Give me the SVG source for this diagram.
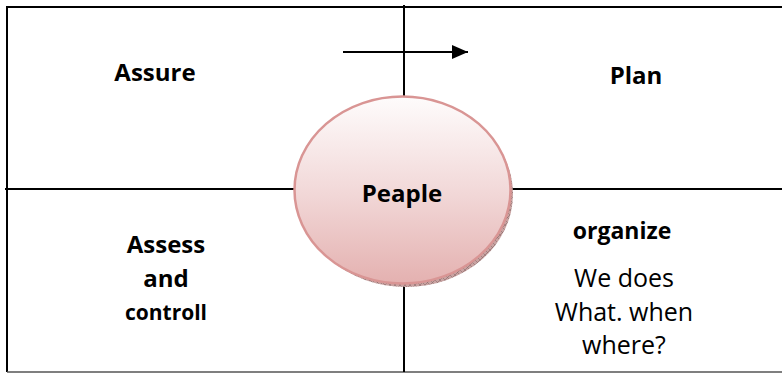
<svg xmlns="http://www.w3.org/2000/svg" width="782" height="374" viewBox="0 0 782 374">
<defs>
<linearGradient id="g" x1="0" y1="0" x2="0" y2="1">
<stop offset="0" stop-color="#fefcfc"/>
<stop offset="0.5" stop-color="#f2d9d9"/>
<stop offset="1" stop-color="#e4b1b0"/>
</linearGradient>
<pattern id="hatch" width="5" height="5" patternUnits="userSpaceOnUse">
<rect width="5" height="5" fill="#c9a3a2"/>
<path d="M0 0L5 5M5 0L0 5" stroke="#8a6a6a" stroke-width="0.6"/>
</pattern>
<marker id="ah" markerWidth="16" markerHeight="14" refX="16" refY="7" orient="auto" markerUnits="userSpaceOnUse">
<path d="M0 0L16 7L0 14Z" fill="#000"/>
</marker>
<style>
.ln{stroke:#000;stroke-width:2;fill:none}
.b{font-family:"Open Sans","Liberation Sans",sans-serif;font-weight:bold;text-anchor:middle;fill:#000}
.r{font-family:"Open Sans","Liberation Sans",sans-serif;text-anchor:middle;fill:#000}
</style>
</defs>
<g id="connectors">
<path class="ln" d="M7 372V7H784"/>
<path d="M7 372H784" stroke="#555" stroke-width="1.5"/>
<path class="ln" d="M404 5V372"/>
<path class="ln" d="M5 189H784"/>
<path class="ln" d="M343 52H468" marker-end="url(#ah)"/>
</g>
<g id="people">
<ellipse cx="406" cy="194" rx="107" ry="93" fill="url(#hatch)"/>
<ellipse cx="402.5" cy="190" rx="108" ry="93.5" fill="url(#g)" stroke="#d99594" stroke-width="2.5"/>
<text class="b" x="402" y="202" font-size="24">Peaple</text>
</g>
<g id="assure"><text class="b" x="155" y="81" font-size="24">Assure</text></g>
<g id="plan"><text class="b" x="636" y="84" font-size="24">Plan</text></g>
<g id="assess">
<text class="b" x="166" y="253" font-size="24">Assess</text>
<text class="b" x="166" y="287" font-size="24">and</text>
<text class="b" x="166" y="320" font-size="21">controll</text>
</g>
<g id="organize">
<text class="b" x="622" y="239" font-size="23">organize</text>
<text class="r" x="624" y="287" font-size="25">We does</text>
<text class="r" x="624" y="321" font-size="25">What. when</text>
<text class="r" x="624" y="354" font-size="25">where?</text>
</g>
</svg>
